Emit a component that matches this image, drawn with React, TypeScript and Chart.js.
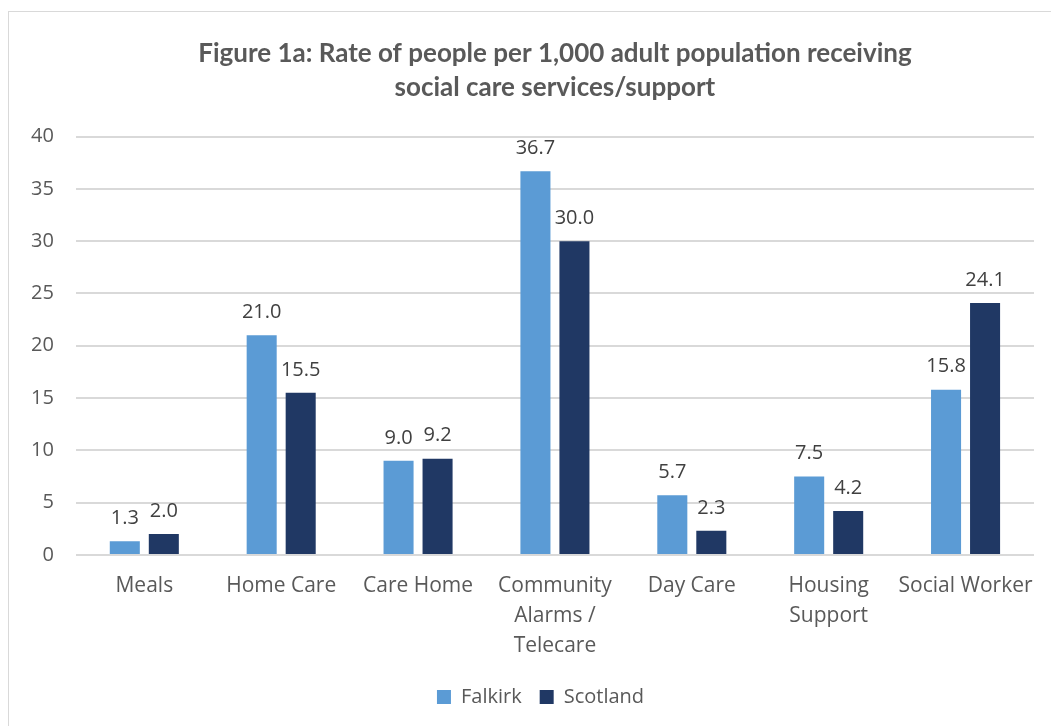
import React, { useEffect, useRef } from "react";
import { Chart, registerables } from "chart.js";

Chart.register(...registerables);

const categories: (string | string[])[] = [
  "Meals",
  "Home Care",
  "Care Home",
  ["Community", "Alarms /", "Telecare"],
  "Day Care",
  ["Housing", "Support"],
  "Social Worker",
];
const falkirk = [1.3, 21.0, 9.0, 36.7, 5.7, 7.5, 15.8];
const scotland = [2.0, 15.5, 9.2, 30.0, 2.3, 4.2, 24.1];
const yTicks = [0, 5, 10, 15, 20, 25, 30, 35, 40];
const titleLines = [
  "Figure 1a: Rate of people per 1,000 adult population receiving",
  "social care services/support",
];

const TITLE_FONT = "Lato, 'Open Sans', sans-serif";
const FONT = "'Open Sans', Lato, sans-serif";
const TEXT = "#595959";

const valueLabels = {
  id: "valueLabels",
  afterDatasetsDraw(chart: any) {
    const ctx = chart.ctx;
    ctx.save();
    ctx.fillStyle = "#404040";
    ctx.font = `20px ${FONT}`;
    ctx.textAlign = "center";
    ctx.textBaseline = "bottom";
    chart.data.datasets.forEach((ds: any, i: number) => {
      const meta = chart.getDatasetMeta(i);
      meta.data.forEach((bar: any, j: number) => {
        ctx.fillText(Number(ds.data[j]).toFixed(1), bar.x, bar.y - 13);
      });
    });
    ctx.restore();
  },
};

const legendShift = {
  id: "legendShift",
  afterLayout(chart: any) {
    if (chart.legend) {
      chart.legend.left += 19;
      chart.legend.right += 19;
    }
  },
};

export default function App() {
  const ref = useRef<HTMLCanvasElement>(null);
  useEffect(() => {
    document.body.style.margin = "0";
    document.body.style.overflow = "hidden";
    const chart = new Chart(ref.current!, {
      type: "bar",
      data: {
        labels: categories,
        datasets: [
          { label: "Falkirk", data: falkirk, backgroundColor: "#5B9BD5" },
          { label: "Scotland", data: scotland, backgroundColor: "#203864" },
        ],
      },
      options: {
        animation: false,
        responsive: true,
        maintainAspectRatio: false,
        datasets: { bar: { categoryPercentage: 0.57, barPercentage: 0.77 } },
        layout: { padding: { left: 0, right: 17, top: 14, bottom: 7 } },
        plugins: {
          title: {
            display: true,
            fullSize: false,
            text: titleLines,
            color: TEXT,
            font: { family: TITLE_FONT, size: 26, weight: "bold", lineHeight: 1.32 },
            padding: { top: 10, bottom: 32 },
          },
          legend: {
            position: "bottom",
            labels: {
              color: TEXT,
              font: { family: FONT, size: 20 },
              boxWidth: 14,
              boxHeight: 14,
              padding: 18,
            },
          },
          tooltip: { enabled: false },
        },
        scales: {
          x: {
            grid: { display: false },
            border: { display: false },
            ticks: {
              color: TEXT,
              font: { family: FONT, size: 21, lineHeight: 1.43 },
              maxRotation: 0,
              minRotation: 0,
              autoSkip: false,
              padding: 8,
            },
          },
          y: {
            min: 0,
            max: 40,
            afterBuildTicks: (axis: any) => {
              axis.ticks = yTicks.map((v) => ({ value: v }));
            },
            grid: { color: "#d9d9d9", lineWidth: 2, drawTicks: false },
            border: { display: false },
            ticks: { color: TEXT, font: { family: FONT, size: 20 }, padding: 22 },
          },
        },
      },
      plugins: [valueLabels, legendShift],
    });
    return () => chart.destroy();
  }, []);
  return (
    <div
      style={{
        position: "fixed",
        left: 8,
        top: 11,
        width: 1050,
        height: 720,
        border: "1px solid #d9d9d9",
        background: "#fff",
        boxSizing: "border-box",
      }}
    >
      <div style={{ position: "absolute", left: 0, top: 0, right: 6, bottom: 6 }}>
        <canvas ref={ref} />
      </div>
    </div>
  );
}
